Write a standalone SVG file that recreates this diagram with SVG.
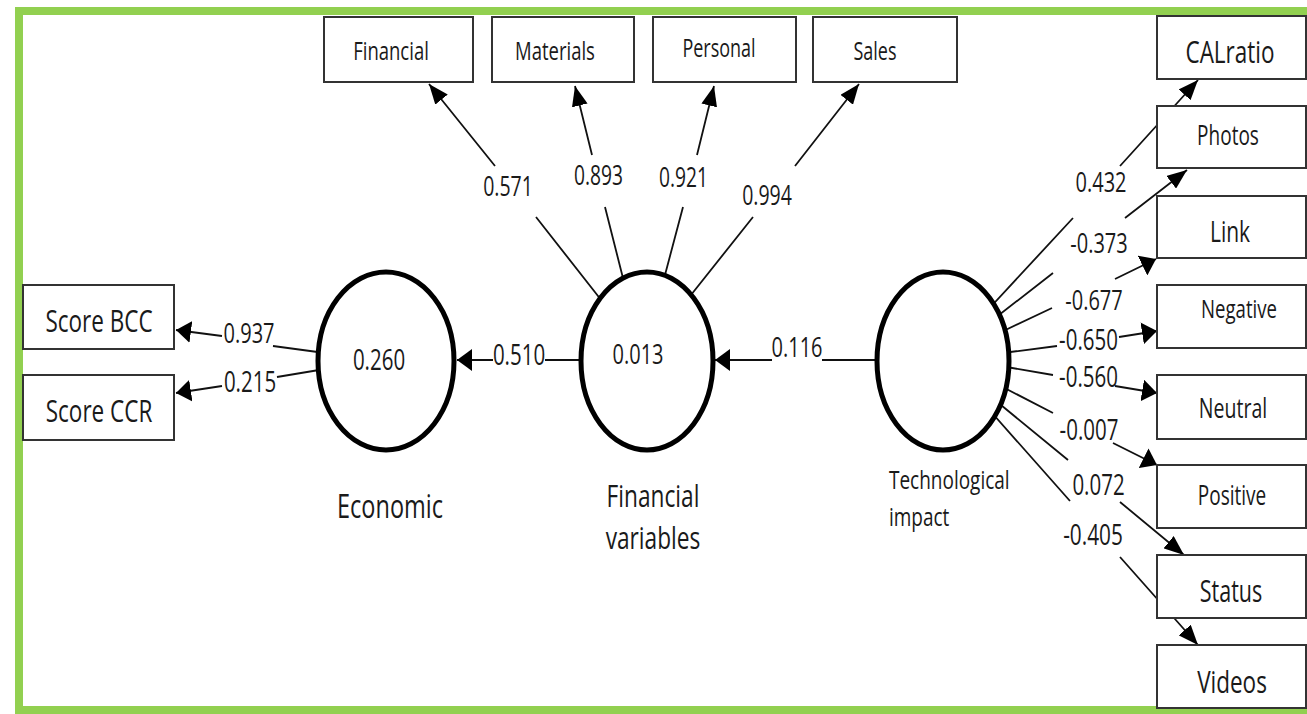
<svg xmlns="http://www.w3.org/2000/svg" width="1307" height="714" viewBox="0 0 1307 714">
<style>
.t{font-family:"Open Sans","Noto Sans",sans-serif;fill:#1a1a1a;}
.box{fill:#fff;stroke:#333;stroke-width:2;}
.ell{fill:#fff;stroke:#000;stroke-width:5;}
.c{fill:none;stroke:#111;stroke-width:1.8;}
.ch{marker-end:url(#ah);}
.cv{marker-end:url(#av);}
</style>
<defs>
<marker id="ah" markerUnits="userSpaceOnUse" markerWidth="15" markerHeight="22" refX="15" refY="11" orient="auto"><path d="M0,0 L15,11 L0,22 z" fill="#000"/></marker>
<marker id="av" markerUnits="userSpaceOnUse" markerWidth="20" markerHeight="16" refX="20" refY="8" orient="auto"><path d="M0,0 L20,8 L0,16 z" fill="#000"/></marker>
</defs>
<rect x="0" y="0" width="1307" height="714" fill="#fff"/>
<rect id="frame" x="19" y="11" width="1300" height="699" fill="none" stroke="#92d050" stroke-width="8"/>

<g id="connectors">
<path class="c cv" d="M609,310 L536,217 M495,166 L429,84"/>
<path class="c cv" d="M626,290 L605,207 M592,155 L575,86"/>
<path class="c cv" d="M661,290 L683,207 M697,155 L714,86"/>
<path class="c cv" d="M683,305 L753,217 M795,166 L859,84"/>
<path class="c ch" d="M325,353 L273,346 M222,336 L176,330"/>
<path class="c ch" d="M325,369 L277,377 M222,386 L176,393"/>
<path class="c ch" d="M590,360 L545,360 M493,360 L457,360"/>
<path class="c ch" d="M880,360 L822,360 M772,360 L715,360"/>
<path class="c cv" d="M985,313 L1073,218 M1120,166 L1198,80"/>
<path class="c cv" d="M990,322 L1053,273 M1125,218 L1187,170"/>
<path class="c ch" d="M995,335 L1052,308 M1115,279 L1156,259"/>
<path class="c ch" d="M995,354 L1057,346 M1119,337 L1157,331"/>
<path class="c ch" d="M995,365 L1053,375 M1115,386 L1157,393"/>
<path class="c ch" d="M995,383 L1053,413 M1113,443 L1157,465"/>
<path class="c cv" d="M990,396 L1068,460 M1120,502 L1184,555"/>
<path class="c cv" d="M985,405 L1070,501 M1120,557 L1198,645"/>
<g class="t" text-anchor="middle">
<text font-size="19.5" transform="translate(508 196) scale(1 1.4)">0.571</text>
<text font-size="19.2" transform="translate(598.5 185) scale(1 1.4)">0.893</text>
<text font-size="19.2" transform="translate(683.5 187) scale(1 1.4)">0.921</text>
<text font-size="19.5" transform="translate(767 205) scale(1 1.4)">0.994</text>
<text font-size="20" transform="translate(249 343) scale(1 1.4)">0.937</text>
<text font-size="20.5" transform="translate(250 392) scale(1 1.4)">0.215</text>
<text font-size="20.5" transform="translate(519 365) scale(1 1.4)">0.510</text>
<text font-size="20" transform="translate(797 357) scale(1 1.4)">0.116</text>
<text font-size="20" transform="translate(1101 192) scale(1 1.4)">0.432</text>
<text font-size="20" transform="translate(1099 253) scale(1 1.4)">-0.373</text>
<text font-size="20" transform="translate(1094 310) scale(1 1.4)">-0.677</text>
<text font-size="20.5" transform="translate(1088.5 350) scale(1 1.4)">-0.650</text>
<text font-size="20.5" transform="translate(1088.5 387) scale(1 1.4)">-0.560</text>
<text font-size="20.5" transform="translate(1089 440) scale(1 1.4)">-0.007</text>
<text font-size="20.5" transform="translate(1098.5 495) scale(1 1.4)">0.072</text>
<text font-size="20.8" transform="translate(1093 545) scale(1 1.4)">-0.405</text>
</g>
</g>

<g id="financial" class="t" text-anchor="middle"><rect class="box" x="324" y="17" width="149" height="65"/><text font-size="18.5" transform="translate(391 60) scale(1 1.4)">Financial</text></g>
<g id="materials" class="t" text-anchor="middle"><rect class="box" x="492" y="17" width="142" height="65"/><text font-size="18.5" transform="translate(555 60) scale(1 1.4)">Materials</text></g>
<g id="personal" class="t" text-anchor="middle"><rect class="box" x="653" y="17" width="143" height="65"/><text font-size="18" transform="translate(719 57) scale(1 1.4)">Personal</text></g>
<g id="sales" class="t" text-anchor="middle"><rect class="box" x="813" y="17" width="144" height="65"/><text font-size="18" transform="translate(875 60) scale(1 1.4)">Sales</text></g>

<g id="calratio" class="t" text-anchor="middle"><rect class="box" x="1157" y="16" width="149" height="63"/><text font-size="22.5" transform="translate(1230 63) scale(1 1.4)">CALratio</text></g>
<g id="photos" class="t" text-anchor="middle"><rect class="box" x="1157" y="106" width="149" height="62"/><text font-size="19" transform="translate(1228 145) scale(1 1.4)">Photos</text></g>
<g id="link" class="t" text-anchor="middle"><rect class="box" x="1157" y="196" width="149" height="62"/><text font-size="21" transform="translate(1230 242) scale(1 1.4)">Link</text></g>
<g id="negative" class="t" text-anchor="middle"><rect class="box" x="1157" y="285" width="149" height="63"/><text font-size="18.6" transform="translate(1239 318) scale(1 1.4)">Negative</text></g>
<g id="neutral" class="t" text-anchor="middle"><rect class="box" x="1157" y="375" width="149" height="64"/><text font-size="19.5" transform="translate(1233 418) scale(1 1.4)">Neutral</text></g>
<g id="positive" class="t" text-anchor="middle"><rect class="box" x="1157" y="465" width="149" height="63"/><text font-size="19" transform="translate(1232 505) scale(1 1.4)">Positive</text></g>
<g id="status" class="t" text-anchor="middle"><rect class="box" x="1157" y="555" width="149" height="63"/><text font-size="21.5" transform="translate(1231 602) scale(1 1.4)">Status</text></g>
<g id="videos" class="t" text-anchor="middle"><rect class="box" x="1157" y="645" width="149" height="63"/><text font-size="22.5" transform="translate(1232 693) scale(1 1.4)">Videos</text></g>

<g id="score-bcc" class="t" text-anchor="middle"><rect class="box" x="23" y="285" width="151" height="64"/><text font-size="22.5" transform="translate(99 332) scale(1 1.4)">Score BCC</text></g>
<g id="score-ccr" class="t" text-anchor="middle"><rect class="box" x="23" y="375" width="151" height="65"/><text font-size="22.5" transform="translate(99 422) scale(1 1.4)">Score CCR</text></g>

<g id="economic" class="t" text-anchor="middle"><ellipse class="ell" cx="386" cy="361" rx="68" ry="89"/><text font-size="20.5" transform="translate(379 370) scale(1 1.4)">0.260</text><text font-size="23.5" transform="translate(390 518) scale(1 1.4)">Economic</text></g>
<g id="financial-variables" class="t" text-anchor="middle"><ellipse class="ell" cx="647" cy="361" rx="66" ry="89"/><text font-size="20" transform="translate(638 364) scale(1 1.4)">0.013</text><text font-size="22.7" transform="translate(653 507) scale(1 1.4)">Financial</text><text font-size="22.7" transform="translate(653 549) scale(1 1.4)">variables</text></g>
<g id="technological-impact" class="t"><ellipse class="ell" cx="943" cy="361" rx="66" ry="89"/><text font-size="19" transform="translate(889 489) scale(1 1.3)">Technological</text><text font-size="19" transform="translate(889 526) scale(1 1.3)">impact</text></g>
</svg>
